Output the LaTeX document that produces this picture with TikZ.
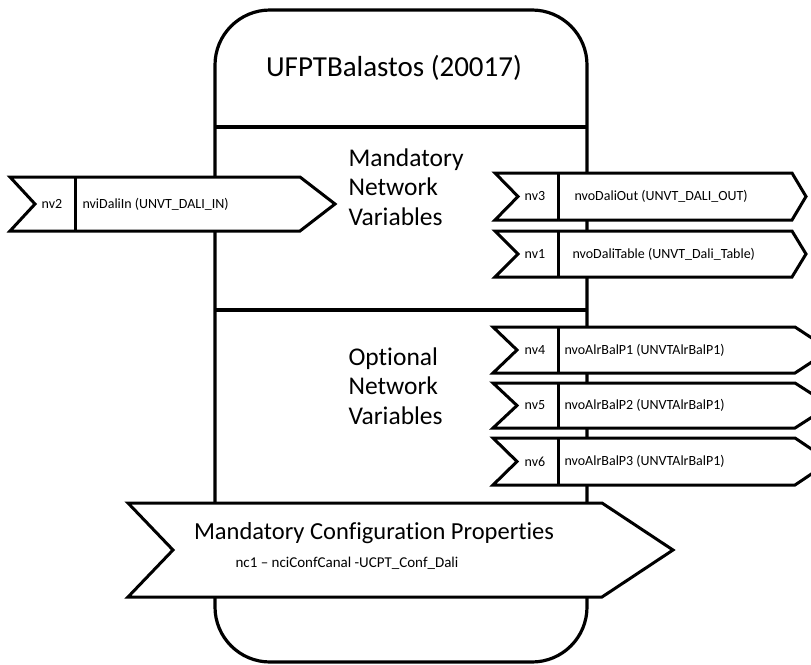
\documentclass[tikz,border=0pt]{standalone}
\usepackage{fontspec}
\setmainfont{Carlito}[Ligatures={NoCommon,NoRare}]
% flag-shaped variable box: #1 left x, #2 notch tip x, #3 divider x,
% #4 right corner x, #5 point x, #6 top y, #7 bottom y
\newcommand\flagbox[7]{%
  \draw[flagline] (#1,#6) -- (#4,#6) -- (#5,{(#6+#7)/2}) -- (#4,#7)
    -- (#1,#7) -- (#2,{(#6+#7)/2}) -- cycle;
  \draw[flagline] (#3,#6) -- (#3,#7);}
\begin{document}
\begin{tikzpicture}[x=1pt,y=-1pt,line join=miter,
  flagline/.style={line width=3pt,fill=white},
  bodyline/.style={line width=3.2pt},
  titletext/.style={font=\fontsize{29}{32}\selectfont},
  sectext/.style={font=\fontsize{25.5}{29.5}\selectfont,align=left,anchor=west},
  idtext/.style={font=\fontsize{14}{16}\selectfont},
  nametext/.style={font=\fontsize{14}{16}\selectfont,anchor=west}]
\useasboundingbox (0,0) rectangle (811,664);
\clip (0,0) rectangle (811,664);

% functional block body
\draw[bodyline,rounded corners=55pt] (215,10) rectangle (587,662);
\draw[bodyline] (215,127) -- (587,127);
\draw[bodyline] (215,310) -- (587,310);

\node[titletext] (title) at (394,68) {UFPTBalastos (20017)};
\node[sectext] (mand) at (345,187) {Mandatory\\Network\\Variables};
\node[sectext] (opt) at (345,386) {Optional\\Network\\Variables};

% input variable
\flagbox{10}{35}{75}{300}{335}{177}{231}
\node[idtext] (nv2) at (52,204) {nv2};
\node[nametext] (nv2n) at (79,204) {nviDaliIn (UNVT\_DALI\_IN)};

% mandatory outputs
\flagbox{495}{518}{558}{792}{806}{173}{220}
\node[idtext] (nv3) at (535,196.5) {nv3};
\node[nametext] (nv3n) at (571,196.5) {nvoDaliOut (UNVT\_DALI\_OUT)};
\flagbox{495}{518}{558}{792}{806}{231}{277}
\node[idtext] (nv1) at (535,254) {nv1};
\node[nametext] (nv1n) at (569,254) {nvoDaliTable (UNVT\_Dali\_Table)};

% optional outputs
\flagbox{493}{517}{558}{795}{830}{327}{373}
\node[idtext] (nv4) at (535,350) {nv4};
\node[nametext] (nv4n) at (561,350) {nvoAlrBalP1 (UNVTAlrBalP1)};
\flagbox{493}{517}{558}{795}{830}{383}{428}
\node[idtext] (nv5) at (535,405.5) {nv5};
\node[nametext] (nv5n) at (561,405.5) {nvoAlrBalP2 (UNVTAlrBalP1)};
\flagbox{493}{517}{558}{795}{830}{438}{485}
\node[idtext] (nv6) at (535,461.5) {nv6};
\node[nametext] (nv6n) at (561,461.5) {nvoAlrBalP3 (UNVTAlrBalP1)};

% configuration properties
\draw[flagline] (128,503) -- (602,503) -- (673,550) -- (602,597)
  -- (128,597) -- (173,550) -- cycle;
\node[font=\fontsize{24.5}{28}\selectfont] (cp) at (374,533) {Mandatory Configuration Properties};
\node[font=\fontsize{15}{17}\selectfont] (nc1) at (347,563) {nc1 -- nciConfCanal -UCPT\_Conf\_Dali};
\end{tikzpicture}
\end{document}
